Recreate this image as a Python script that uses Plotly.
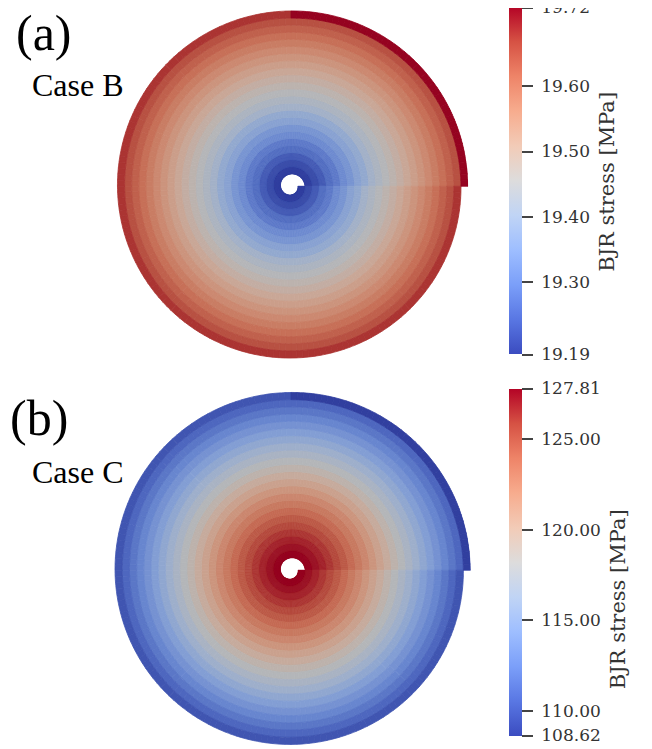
import numpy as np
import plotly.graph_objects as go

# ---------------- data ----------------
# stress per wound layer, innermost -> outermost (MPa)
case_b_layer_stress = [19.19, 19.21, 19.23, 19.26, 19.28, 19.31, 19.33, 19.36, 19.38, 19.41,
                       19.43, 19.45, 19.47, 19.49, 19.51, 19.53, 19.55, 19.57, 19.59, 19.61,
                       19.63, 19.65, 19.68]
case_b_outer_end_stress = 19.72          # final quarter turn of the outer layer
case_c_layer_stress = [127.81, 127.4, 126.9, 126.3, 125.6, 124.9, 124.1, 123.3, 122.5, 121.6,
                       120.7, 119.8, 118.9, 118.0, 117.1, 116.2, 115.3, 114.4, 113.5, 112.6,
                       111.7, 110.8, 109.8]
case_c_outer_end_stress = 108.62

case_b_range = [19.19, 19.72]
case_c_range = [108.62, 127.81]
case_b_ticks = [19.19, 19.30, 19.40, 19.50, 19.60, 19.72]
case_b_ticktext = ["19.19", "19.30", "19.40", "19.50", "19.60", "19.72"]
case_c_ticks = [108.62, 110.0, 115.0, 120.0, 125.0, 127.81]
case_c_ticktext = ["108.62", "110.00", "115.00", "120.00", "125.00", "127.81"]

panel_labels = ["(a)", "(b)"]
case_labels = ["Case B", "Case C"]
cbar_title = "BJR stress [MPa]"

# ---------------- styling ----------------
W, H = 652, 749
OX, OY = 8, 8   # page offset of the plot div (body margin)


def px(x):
    return (x - OX) / W


def py(y):
    return 1 - (y - OY) / H


COOLWARM = [(0.0, (59, 76, 192)), (0.1, (89, 119, 227)), (0.2, (123, 159, 249)),
            (0.3, (158, 190, 255)), (0.4, (192, 212, 245)), (0.5, (221, 220, 220)),
            (0.6, (242, 203, 183)), (0.7, (247, 172, 142)), (0.8, (238, 132, 104)),
            (0.9, (214, 82, 68)), (1.0, (180, 4, 38))]
SHADE = 0.83  # lighting of the rendered roll


def cs(shade=1.0):
    return [[p, "rgb(%d,%d,%d)" % tuple(int(round(c * shade)) for c in rgb)] for p, rgb in COOLWARM]


R0 = 7.0       # inner hole radius (px units)
T = 7.2        # layer thickness
BIN = 2.0      # angular bin width (deg)
OUTER_SEG_START = 270.0
RMAX = 180.0


def spiral_bars(layers, outer_end):
    bases, thetas, vals = [], [], []
    centers = np.arange(BIN / 2, 360, BIN)
    n = len(layers)
    for k, v in enumerate(layers):
        for phi in centers:
            bases.append(R0 + T * (k + phi / 360.0))
            thetas.append(phi)
            if k == n - 1 and phi > OUTER_SEG_START:
                vals.append(outer_end)
            else:
                vals.append(v)
    return bases, thetas, vals


def inside(vals, rng):
    eps = (rng[1] - rng[0]) * 1e-6
    return [min(max(v, rng[0] + eps), rng[1] - eps) for v in vals]


fig = go.Figure()

panels = [
    dict(layers=case_b_layer_stress, outer=case_b_outer_end_stress, rng=case_b_range,
         ticks=case_b_ticks, ticktext=case_b_ticktext, polar="polar", cb_cy=181,
         title_xy=(607, 181)),
    dict(layers=case_c_layer_stress, outer=case_c_outer_end_stress, rng=case_c_range,
         ticks=case_c_ticks, ticktext=case_c_ticktext, polar="polar2", cb_cy=562,
         title_xy=(618, 599)),
]

NB = "\u00a0"
for i, p in enumerate(panels):
    bases, thetas, vals = spiral_bars(p["layers"], p["outer"])
    fig.add_trace(go.Barpolar(
        r=[T] * len(bases), base=bases, theta=thetas, width=BIN,
        subplot=p["polar"],
        marker=dict(color=vals, colorscale=cs(SHADE), cmin=p["rng"][0], cmax=p["rng"][1],
                    showscale=False,
                    line=dict(width=0.8, color=vals, colorscale=cs(SHADE),
                              cmin=p["rng"][0], cmax=p["rng"][1])),
        hoverinfo="skip", showlegend=False,
    ))
    # colour bar (unshaded colour map)
    fig.add_trace(go.Scatterpolar(
        r=[0, 0], theta=[0, 0], mode="markers", subplot=p["polar"],
        marker=dict(color=p["rng"], colorscale=cs(1.0), cmin=p["rng"][0], cmax=p["rng"][1],
                    size=1, opacity=0, showscale=True,
                    colorbar=dict(
                        x=px(509), xanchor="left", xpad=0, ypad=0,
                        y=py(p["cb_cy"]), yanchor="middle",
                        lenmode="pixels", len=347, thickness=13,
                        outlinewidth=0,
                        tickmode="array", tickvals=inside(p["ticks"], p["rng"]),
                        ticktext=[NB + t for t in p["ticktext"]],
                        ticklabeloverflow="allow",
                        ticks="outside", ticklen=11, tickwidth=1.5, tickcolor="#444444",
                        tickfont=dict(family="DejaVu Serif", size=17, color="#333333"),
                    )),
        hoverinfo="skip", showlegend=False,
    ))
    tx, ty = p["title_xy"]
    fig.add_annotation(text=cbar_title, textangle=-90, x=px(tx), y=py(ty),
                       xref="paper", yref="paper", xanchor="center", yanchor="middle",
                       showarrow=False,
                       font=dict(family="DejaVu Serif", size=21, color="#333333"))

# panel labels
label_pos = [(44, 32), (39, 418)]
case_pos = [(78, 84), (78, 472)]
for i in range(2):
    fig.add_annotation(text=panel_labels[i], x=px(label_pos[i][0]), y=py(label_pos[i][1]),
                       xref="paper", yref="paper", xanchor="center", yanchor="middle",
                       showarrow=False, font=dict(family="Liberation Serif", size=50, color="black"))
    fig.add_annotation(text=case_labels[i], x=px(case_pos[i][0]), y=py(case_pos[i][1]),
                       xref="paper", yref="paper", xanchor="center", yanchor="middle",
                       showarrow=False, font=dict(family="Liberation Serif", size=32, color="black"))

cx = 291


def polar_layout(cy):
    return dict(
        domain=dict(x=[px(cx - RMAX), px(cx + RMAX)],
                    y=[max(0.0, py(cy + RMAX)), min(1.0, py(cy - RMAX))]),
        bgcolor="white", hole=0, barmode="overlay",
        radialaxis=dict(visible=False, range=[0, RMAX], showgrid=False),
        angularaxis=dict(visible=False, direction="clockwise", rotation=0, showgrid=False),
    )


fig.update_layout(
    width=W, height=H, margin=dict(l=0, r=0, t=0, b=0),
    paper_bgcolor="white", plot_bgcolor="white",
    polar=polar_layout(183), polar2=polar_layout(570),
)

fig.write_html("out.html")
